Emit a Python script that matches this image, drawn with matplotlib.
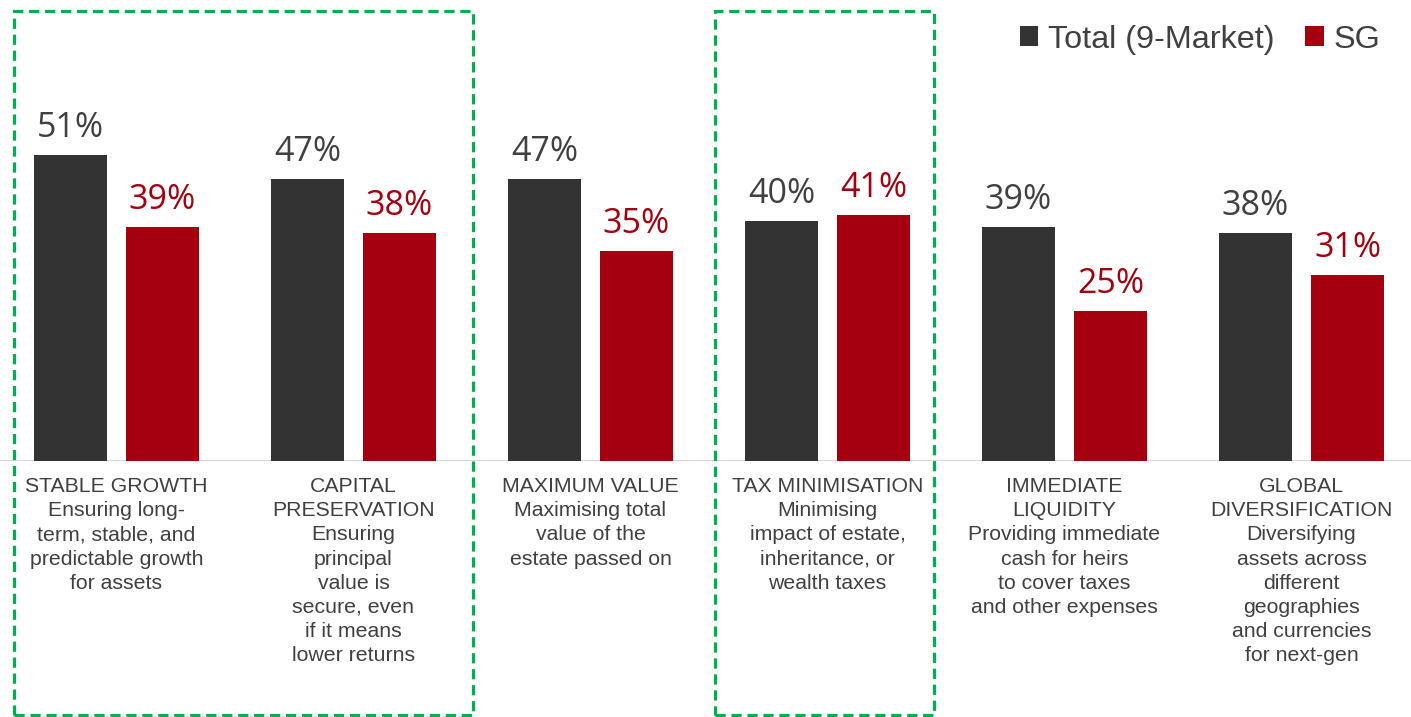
import matplotlib
matplotlib.use("Agg")
import matplotlib.pyplot as plt
from matplotlib.patches import Patch, Rectangle
from matplotlib.transforms import blended_transform_factory
import numpy as np

categories = [
    "STABLE GROWTH\nEnsuring long-\nterm, stable, and\npredictable growth\nfor assets",
    "CAPITAL\nPRESERVATION\nEnsuring\nprincipal\nvalue is\nsecure, even\nif it means\nlower returns",
    "MAXIMUM VALUE\nMaximising total\nvalue of the\nestate passed on",
    "TAX MINIMISATION\nMinimising\nimpact of estate,\ninheritance, or\nwealth taxes",
    "IMMEDIATE\nLIQUIDITY\nProviding immediate\ncash for heirs\nto cover taxes\nand other expenses",
    "GLOBAL\nDIVERSIFICATION\nDiversifying\nassets across\ndifferent\ngeographies\nand currencies\nfor next-gen",
]
total_9_market = [51, 47, 47, 40, 39, 38]
sg = [39, 38, 35, 41, 25, 31]
series_names = ["Total (9-Market)", "SG"]

DARK = "#333333"
RED = "#A5000F"
TEXT = "#404040"
GREEN = "#00B050"

W, H = 1411, 717
fig = plt.figure(figsize=(W / 100, H / 100), dpi=100)

base_px = 461
ax = fig.add_axes([0, (H - base_px) / H, 1, base_px / H])
pitch = 237.0
x0 = 116.5
ax.set_xlim(-x0 / pitch, (W - x0) / pitch)
ax.set_ylim(0, base_px / 6.0)

x = np.arange(len(categories))
bw = 73 / pitch
off = 46 / pitch
ax.bar(x - off, total_9_market, width=bw, color=DARK, zorder=2)
ax.bar(x + off, sg, width=bw, color=RED, zorder=2)

val_font = dict(fontsize=24.5, family="Open Sans")
for xi, v in zip(x, total_9_market):
    ax.annotate(f"{v}%", (xi - off, v), xytext=(0, 13), textcoords="offset points",
                ha="center", va="baseline", color=TEXT, **val_font)
for xi, v in zip(x, sg):
    ax.annotate(f"{v}%", (xi + off, v), xytext=(0, 13), textcoords="offset points",
                ha="center", va="baseline", color=RED, **val_font)

for s in ax.spines.values():
    s.set_visible(False)
ax.axhline(0, color="#D9D9D9", lw=1.5, zorder=1)
ax.set_xticks([])
ax.set_yticks([])

trans = blended_transform_factory(ax.transData, ax.transAxes)
for xi, lab in zip(x, categories):
    ax.text(xi, -16 / base_px, lab, transform=trans, ha="center", va="top",
            fontsize=15.3, color=TEXT, family="Liberation Sans", linespacing=1.345,
            clip_on=False)

handles = [Patch(facecolor=DARK), Patch(facecolor=RED)]
leg = fig.legend(handles, series_names, loc="upper right", bbox_to_anchor=(0.999, 1.006),
                 ncol=2, frameon=False, handlelength=0.58, handleheight=0.58,
                 handletextpad=0.3, columnspacing=0.95,
                 prop={"family": "Liberation Sans", "size": 23.3})
for t in leg.get_texts():
    t.set_color(TEXT)

def dashed_box(left, top, right, bottom):
    r = Rectangle((left / W, 1 - bottom / H), (right - left) / W, (bottom - top) / H,
                  transform=fig.transFigure, fill=False, edgecolor=GREEN, lw=2.3,
                  linestyle=(0, (3.2, 1.8)), zorder=5)
    fig.add_artist(r)

dashed_box(14, 11, 473, 715)
dashed_box(715, 11, 934, 715)

fig.savefig("out.png", dpi=100)
